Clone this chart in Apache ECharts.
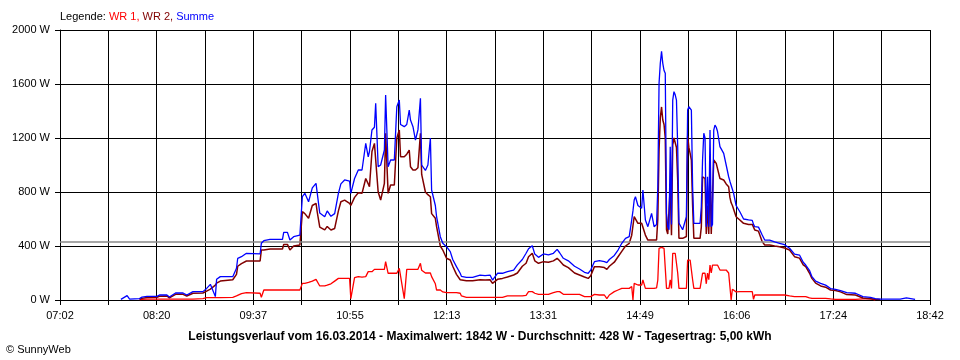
<!DOCTYPE html>
<html>
<head>
<meta charset="utf-8">
<script src="https://cdn.jsdelivr.net/npm/echarts@6/dist/echarts.min.js"></script>
<style>
html,body{margin:0;padding:0;background:#fff;}
#c{width:960px;height:360px;}
</style>
</head>
<body>
<div id="c"></div>
<script>
// x-axis tick labels (every second grid line)
const tickLabels = ['07:02','08:20','09:37','10:55','12:13','13:31','14:49','16:06','17:24','18:42'];
const axisStart = 422;   // 07:02 in minutes
const axisEnd = 1122;    // 18:42 in minutes
const avgValue = 428;
const titleText = 'Leistungsverlauf vom 16.03.2014 - Maximalwert: 1842 W - Durchschnitt: 428 W - Tagesertrag: 5,00 kWh';

// time in minutes since midnight
const times = [471,476,478,486,488,492,500,502,508,510,515,521,524,529,537,540,543,547,548,551,561,564,565,568,572,583,584,586,591,601,602,605,607,610,615,617,619,622,625,628,629,631,635,637,640,643,646,648,651,655,656,659,662,665,668,670,671,673,675,676,678,680,683,684,686,688,691,693,695,696,699,701,703,704,706,708,710,712,713,716,718,720,721,724,725,728,730,733,736,738,741,744,745,749,754,760,764,768,770,774,778,782,787,790,794,797,799,802,804,807,811,815,819,822,824,827,831,836,840,844,847,849,852,856,860,862,864,868,871,874,877,880,882,883,884,885,887,890,891,893,895,898,900,902,903,904,905,906,907,908,909,910,911,912,913,914,915,916,917,918,919,920,923,926,927,928,929,930,931,932,937,938,939,940,941,942,943,944,945,946,947,948,949,950,951,953,956,958,960,961,962,963,964,966,969,972,976,979,980,981,984,987,989,993,997,1001,1005,1009,1013,1017,1020,1022,1025,1027,1030,1034,1038,1042,1046,1050,1055,1062,1068,1074,1078,1082,1090,1098,1103,1104,1110];

// Summe (W)
const summe = [5,32,7,10,22,27,27,37,37,22,52,52,37,62,62,86,116,25,153,173,173,235,309,321,346,341,420,439,449,449,501,501,444,469,480,765,790,728,830,864,790,644,617,660,620,640,790,860,889,880,790,900,963,963,1160,1061,1100,1259,1280,1457,987,1000,1111,1518,987,1037,1037,1432,1481,1300,1284,1300,1407,1333,1284,1185,1260,1494,1000,960,1000,1200,815,700,617,469,420,395,358,300,247,198,175,168,168,185,180,185,148,198,198,210,222,260,300,346,380,402,340,316,341,335,346,375,350,309,290,250,230,205,198,222,284,291,284,277,300,330,370,420,457,470,593,660,741,765,700,680,815,593,543,642,543,560,839,1605,1753,1842,1753,1700,1679,642,543,520,1136,560,1481,1543,1520,1481,1136,570,520,617,1407,1432,1420,1407,839,568,568,691,1037,1235,1200,543,913,543,1259,543,560,1259,1296,1280,1250,1136,1086,1000,913,880,850,820,790,700,654,600,593,590,560,543,540,481,444,444,430,420,410,383,340,333,280,259,220,173,140,123,110,85,79,70,54,50,25,20,10,7,7,7,15,7,5];

// WR 2 (W)
const wr2 = [null,null,null,5,12,18,20,28,30,15,42,42,30,50,52,66,80,110,125,140,150,190,250,270,289,289,370,370,378,378,412,412,370,400,407,654,640,605,700,716,650,540,519,545,519,530,660,728,740,716,700,760,795,790,900,860,839,1100,1160,1160,800,741,864,1235,790,852,852,1200,1259,1061,1061,1080,1111,987,963,963,980,1235,930,800,780,765,640,605,543,400,370,309,296,250,190,150,143,143,143,150,148,150,123,153,160,170,185,200,250,272,320,346,290,272,284,280,290,309,290,259,240,200,185,170,160,180,247,247,240,227,250,280,320,360,400,420,480,550,617,617,568,568,568,481,444,444,444,444,600,1111,1350,1430,1333,1300,1200,520,489,480,839,480,1150,1200,1200,1130,889,457,457,470,1215,1130,1086,1037,700,457,457,540,913,913,900,489,700,489,960,489,489,1037,1037,1012,1000,900,889,860,839,760,720,700,691,617,593,568,560,560,540,519,510,432,407,407,400,395,385,370,321,310,260,247,200,160,125,104,95,74,70,60,40,37,15,10,5,4,null,null,null,null,null];

// WR 1 (W)
const wr1 = [null,null,null,3,5,6,6,7,7,7,7,7,7,7,10,17,17,17,17,17,20,30,40,47,54,50,20,74,74,74,74,74,74,74,74,123,123,130,140,153,140,104,104,110,120,140,160,160,160,160,10,165,173,170,173,210,210,210,227,227,227,227,227,284,198,198,198,198,235,235,10,227,227,227,227,227,227,272,220,200,200,200,173,120,74,74,60,54,54,54,54,50,30,20,20,20,20,20,20,20,20,30,30,30,30,35,62,62,50,42,42,42,55,62,62,42,42,42,42,25,25,25,42,37,37,10,37,62,74,86,86,86,100,0,123,111,111,111,148,86,86,86,86,90,148,383,383,390,383,383,380,86,86,86,150,86,346,346,346,340,200,86,86,86,296,296,296,296,150,86,86,100,198,198,198,120,200,150,259,200,259,259,259,259,259,222,222,222,200,190,0,80,74,60,62,62,62,62,5,37,37,37,37,37,37,37,37,30,25,25,25,25,15,12,12,12,12,8,5,5,5,5,8,10,0,null,null,null,null,null,null];

const STEP = (axisEnd - axisStart) / 18;
function toX(t){ return (t - axisStart) / STEP; }
function build(vals){
  const out = [];
  for (let i = 0; i < times.length; i++) {
    if (vals[i] !== null && vals[i] !== undefined) out.push([toX(times[i]), vals[i]]);
  }
  return out;
}

const FONT = 'Liberation Sans, Arial, sans-serif';
const chart = echarts.init(document.getElementById('c'), null, {renderer:'canvas'});
chart.setOption({
  animation: false,
  backgroundColor: '#ffffff',
  textStyle: {fontFamily: FONT},
  title: [
    {
      left: 60, top: 11, padding: 0,
      text: '{k|Legende: }{a|WR 1, }{b|WR 2, }{c|Summe}',
      textStyle: {
        fontSize: 11, fontWeight: 'normal',
        rich: {
          k: {color:'#000000', fontSize:11, fontFamily: FONT},
          a: {color:'#ff0000', fontSize:11, fontFamily: FONT},
          b: {color:'#800000', fontSize:11, fontFamily: FONT},
          c: {color:'#0000ff', fontSize:11, fontFamily: FONT}
        }
      }
    },
    {
      left: 'center', top: 331, padding: 0,
      text: titleText,
      textStyle: {fontSize: 12, fontWeight: 'bold', color: '#000', fontFamily: FONT}
    },
    {
      left: 6, top: 344, padding: 0,
      text: '\u00A9 SunnyWeb',
      textStyle: {fontSize: 11, fontWeight: 'normal', color: '#000', fontFamily: FONT}
    }
  ],
  grid: {left: 60, right: 30, top: 30, bottom: 60, containLabel: false},
  xAxis: {
    type: 'value', min: 0, max: 18, interval: 1,
    axisLine: {show: true, onZero: false, lineStyle: {color: '#000', width: 1}},
    axisTick: {show: true, length: 5, lineStyle: {color: '#000', width: 1}},
    splitLine: {show: true, lineStyle: {color: '#000', width: 1}},
    axisLabel: {
      show: true, color: '#000', fontSize: 11, margin: 10, fontFamily: FONT,
      showMinLabel: true, showMaxLabel: true,
      formatter: function(v){ const k = Math.round(v); return (k % 2 === 0) ? (tickLabels[k/2] || '') : ''; }
    }
  },
  yAxis: {
    type: 'value', min: 0, max: 2000, interval: 400,
    axisLine: {show: true, lineStyle: {color: '#000', width: 1}},
    axisTick: {show: true, length: 5, lineStyle: {color: '#000', width: 1}},
    splitLine: {show: true, lineStyle: {color: '#000', width: 1}},
    axisLabel: {color: '#000', fontSize: 11, margin: 10, fontFamily: FONT,
      formatter: function(v){ return String(Math.round(v)) + ' W'; }}
  },
  series: [
    {
      name: 'WR 1', type: 'line', data: build(wr1), showSymbol: false, symbol: 'none',
      lineStyle: {color: '#ff0000', width: 1.3}, itemStyle: {color: '#ff0000'}, z: 3,
      markLine: {
        silent: true, symbol: 'none', label: {show: false}, animation: false,
        lineStyle: {color: '#8a8a8a', width: 1.5, type: 'solid'},
        data: [{yAxis: avgValue}]
      }
    },
    {
      name: 'WR 2', type: 'line', data: build(wr2), showSymbol: false, symbol: 'none',
      lineStyle: {color: '#800000', width: 1.5}, itemStyle: {color: '#800000'}, z: 4
    },
    {
      name: 'Summe', type: 'line', data: build(summe), showSymbol: false, symbol: 'none',
      lineStyle: {color: '#0000ff', width: 1.3}, itemStyle: {color: '#0000ff'}, z: 5
    }
  ]
});
</script>
</body>
</html>
